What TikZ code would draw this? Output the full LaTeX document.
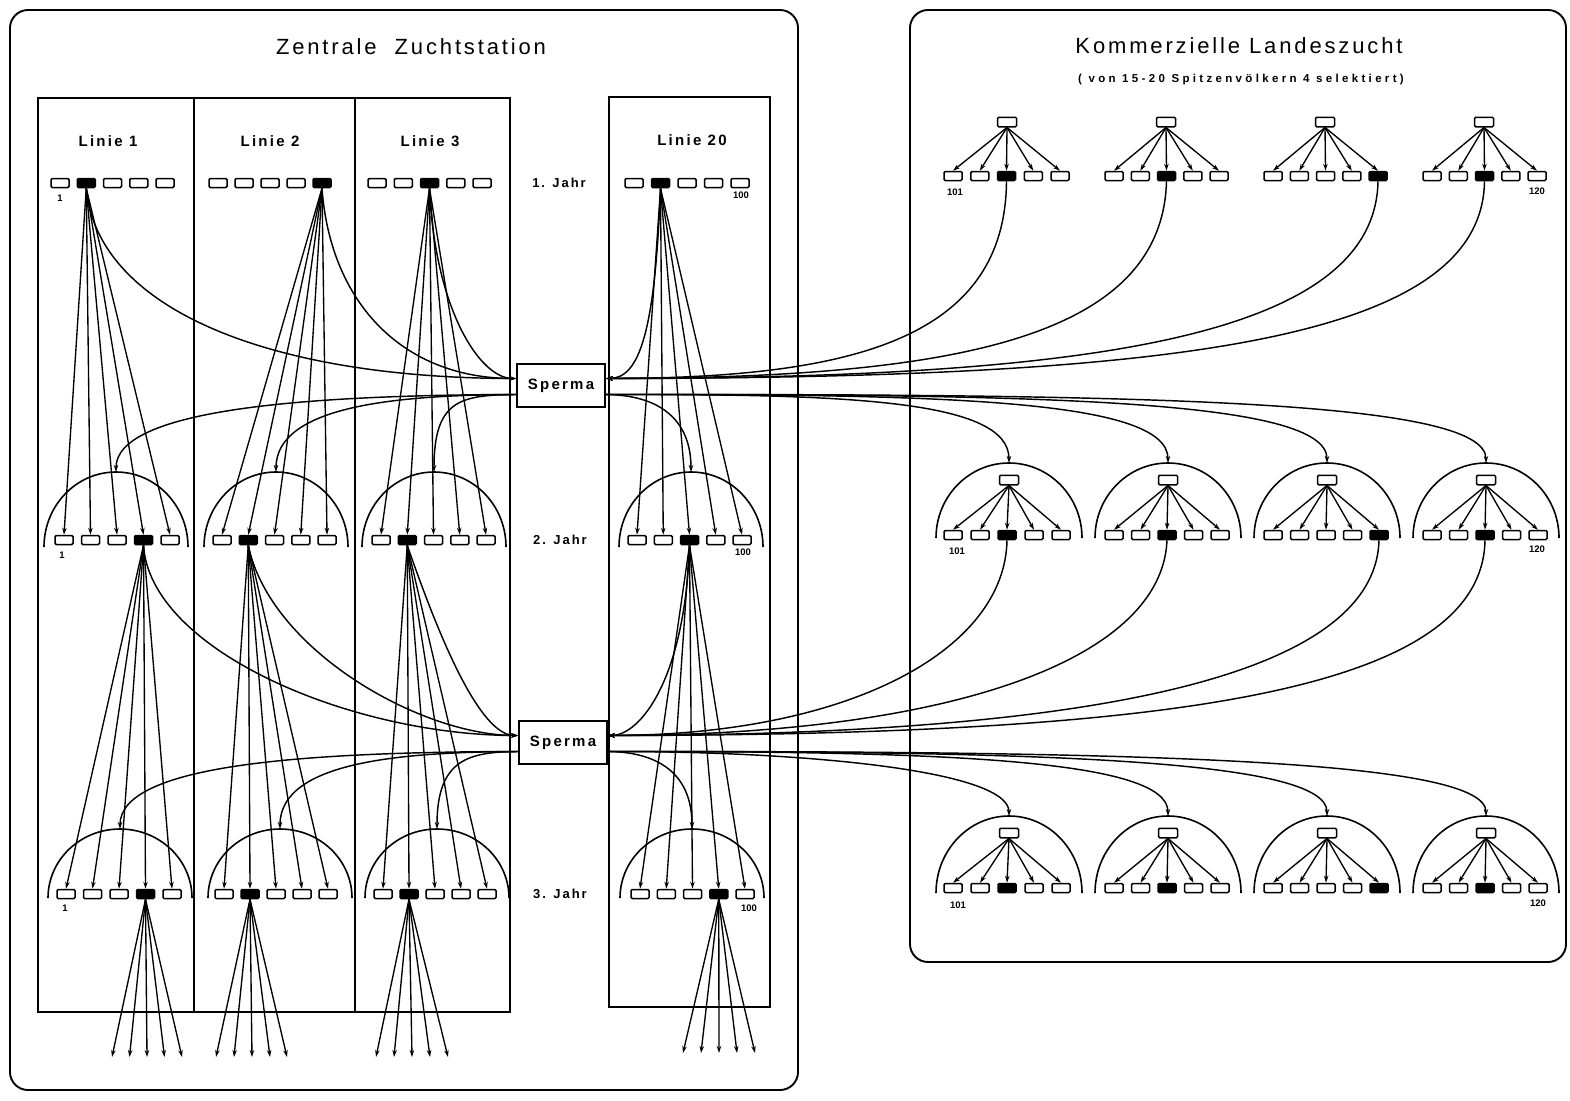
\documentclass[tikz,border=0pt]{standalone}
\usepackage{fontspec}
\setmainfont{Liberation Sans}
\newfontfamily\trackA[LetterSpace=13]{Liberation Sans}
\newfontfamily\trackB[LetterSpace=15]{Liberation Sans}
\newfontfamily\trackC[LetterSpace=29]{Liberation Sans}
\usetikzlibrary{arrows.meta}
\tikzset{
  frame/.style={line width=1.9pt, rounded corners=18pt},
  col/.style={line width=1.7pt},
  wbox/.style={draw, line width=1.5pt, rounded corners=1.2pt, minimum width=18pt, minimum height=9pt, inner sep=0pt, fill=white},
  bbox/.style={wbox, fill=black},
  qbox/.style={wbox, minimum width=19pt, minimum height=9.5pt},
  arr/.style={line width=1.35pt, -{Stealth[length=7pt,width=4.5pt]}},
  con/.style={line width=1.45pt, -{Stealth[length=7pt,width=4.5pt]}},
  dome/.style={line width=1.6pt},
  sperma/.style={draw, line width=1.6pt, minimum width=88pt, minimum height=43pt, inner sep=0pt, fill=white, font=\trackB\bfseries\fontsize{15}{17}\selectfont},
  title/.style={font=\trackA\fontsize{22}{26}\selectfont, inner sep=0pt},
  linie/.style={font=\trackB\bfseries\fontsize{15}{17}\selectfont, inner sep=0pt},
  jahr/.style={font=\trackB\bfseries\fontsize{13}{15}\selectfont, inner sep=0pt},
  num/.style={font=\bfseries\fontsize{9.5}{11}\selectfont, inner sep=0pt},
}
\newcommand\boxrow[5]{%
  \foreach \i in {1,...,5}{%
    \pgfmathsetmacro\xx{#2+(\i-1)*#4}%
    \ifnum\i=#5\relax
      \node[bbox] (#1-\i) at (\xx,#3) {};
    \else
      \node[wbox] (#1-\i) at (\xx,#3) {};
    \fi}}
\newcommand\domearc[4]{% cx, base y, rx, ry
  \draw[dome] ({#1-#3},#2) arc[start angle=180, end angle=0, x radius=#3pt, y radius=#4pt];}
\begin{document}
\begin{tikzpicture}[x=1pt,y=1pt]
\useasboundingbox (0,0) rectangle (1570,-1100);
\fill[white] (0,0) rectangle (1570,-1100);

% ---------- frames ----------
\draw[frame] (10,-10) rectangle (798,-1090);
\draw[frame] (910,-10) rectangle (1566,-962);
\draw[col] (38,-98) rectangle (510,-1012);
\draw[col] (194,-98) -- (194,-1012);
\draw[col] (355,-98) -- (355,-1012);
\draw[col] (609,-97) rectangle (770,-1007);

% ---------- titles ----------
\node[title] (tl) at (411,-47) {Zentrale\ \ Zuchtstation};
\node[title] (tr) at (1239,-46) {Kommerzielle Landeszucht};
\node[font=\trackC\bfseries\fontsize{11.5}{13}\selectfont, inner sep=0pt] (ts) at (1241,-80) {( von 15-20 Spitzenvölkern 4 selektiert)};
\node[linie] (n1) at (108,-141) {Linie 1};
\node[linie] (n2) at (270,-141) {Linie 2};
\node[linie] (n3) at (430,-141) {Linie 3};
\node[linie] (n20) at (692,-140) {Linie 20};
\node[jahr] (j1) at (559,-183) {1. Jahr};
\node[jahr] (j2) at (560,-540) {2. Jahr};
\node[jahr] (j3) at (560,-894) {3. Jahr};

% ---------- domes ----------
\domearc{116}{-547}{72}{75}
\domearc{276}{-547}{72}{75}
\domearc{434}{-547}{72}{75}
\domearc{691}{-547}{72}{75}
\domearc{120}{-898}{72}{69}
\domearc{280}{-898}{72}{69}
\domearc{437}{-898}{72}{69}
\domearc{692}{-898}{72}{69}
\domearc{1009}{-538}{73}{75}
\domearc{1168}{-538}{73}{75}
\domearc{1327}{-538}{73}{75}
\domearc{1486}{-538}{73}{75}
\domearc{1009}{-893}{73}{77}
\domearc{1168}{-893}{73}{77}
\domearc{1327}{-893}{73}{77}
\domearc{1486}{-893}{73}{77}
\coordinate (T1b) at (116,-472);
\coordinate (T2b) at (276,-472);
\coordinate (T3b) at (434,-472);
\coordinate (TTb) at (691,-472);
\coordinate (T1c) at (120,-829);
\coordinate (T2c) at (280,-829);
\coordinate (T3c) at (437,-829);
\coordinate (TTc) at (692,-829);
\coordinate (U1b) at (1009,-463);
\coordinate (U2b) at (1168,-463);
\coordinate (U3b) at (1327,-463);
\coordinate (U4b) at (1486,-463);
\coordinate (U1c) at (1009,-816);
\coordinate (U2c) at (1168,-816);
\coordinate (U3c) at (1327,-816);
\coordinate (U4c) at (1486,-816);

% ---------- boxes ----------
\boxrow{L1a}{60}{-183}{26.25}{2}
\boxrow{L2a}{218}{-183}{26}{5}
\boxrow{L3a}{377}{-183}{26.25}{3}
\boxrow{LTa}{634}{-183}{26.5}{2}
\boxrow{L1b}{64}{-540}{26.5}{4}
\boxrow{L2b}{222}{-540}{26.25}{2}
\boxrow{L3b}{381}{-540}{26.25}{2}
\boxrow{LTb}{637}{-540}{26.25}{3}
\boxrow{L1c}{66}{-894}{26.5}{4}
\boxrow{L2c}{224}{-894}{26}{2}
\boxrow{L3c}{383}{-894}{26}{2}
\boxrow{LTc}{640}{-894}{26.25}{4}

\boxrow{R1a}{953}{-176}{26.75}{3}
\boxrow{R2a}{1114}{-176}{26.25}{3}
\boxrow{R3a}{1273}{-176}{26.25}{5}
\boxrow{R4a}{1432}{-176}{26.25}{3}
\boxrow{R1b}{953}{-535}{27}{3}
\boxrow{R2b}{1114}{-535}{26.5}{3}
\boxrow{R3b}{1273}{-535}{26.5}{5}
\boxrow{R4b}{1432}{-535}{26.5}{3}
\boxrow{R1c}{953}{-888}{27}{3}
\boxrow{R2c}{1114}{-888}{26.5}{3}
\boxrow{R3c}{1273}{-888}{26.5}{5}
\boxrow{R4c}{1432}{-888}{26.5}{3}

\node[qbox] (Q1a) at (1007,-122) {};
\node[qbox] (Q2a) at (1166,-122) {};
\node[qbox] (Q3a) at (1325,-122) {};
\node[qbox] (Q4a) at (1484,-122) {};
\node[qbox] (Q1b) at (1009,-480) {};
\node[qbox] (Q2b) at (1168,-480) {};
\node[qbox] (Q3b) at (1327,-480) {};
\node[qbox] (Q4b) at (1486,-480) {};
\node[qbox] (Q1c) at (1009,-833) {};
\node[qbox] (Q2c) at (1168,-833) {};
\node[qbox] (Q3c) at (1327,-833) {};
\node[qbox] (Q4c) at (1486,-833) {};

% numbers
\node[num] (c1) at (60,-198) {1};
\node[num] (c2) at (62,-555) {1};
\node[num] (c3) at (65,-908) {1};
\node[num] (c4) at (741,-195) {100};
\node[num] (c5) at (743,-552) {100};
\node[num] (c6) at (749,-908) {100};
\node[num] (c7) at (955,-192) {101};
\node[num] (c8) at (957,-551) {101};
\node[num] (c9) at (958,-905) {101};
\node[num] (c10) at (1537,-191) {120};
\node[num] (c11) at (1537,-549) {120};
\node[num] (c12) at (1538,-903) {120};

% ---------- Sperma ----------
\node[sperma] (S1) at (561,-385.5) {Sperma};
\node[sperma] (S2) at (563,-742.5) {Sperma};

% ---------- fans ----------
\foreach \i in {1,...,5}{
  \draw[arr] (L1a-2.south) -- (L1b-\i.north);
  \draw[arr] (L2a-5.south) -- (L2b-\i.north);
  \draw[arr] (L3a-3.south) -- (L3b-\i.north);
  \draw[arr] (LTa-2.south) -- (LTb-\i.north);
  \draw[arr] (L1b-4.south) -- (L1c-\i.north);
  \draw[arr] (L2b-2.south) -- (L2c-\i.north);
  \draw[arr] (L3b-2.south) -- (L3c-\i.north);
  \draw[arr] (LTb-3.south) -- (LTc-\i.north);
  \draw[arr] (Q1a.south) -- (R1a-\i.north);
  \draw[arr] (Q2a.south) -- (R2a-\i.north);
  \draw[arr] (Q3a.south) -- (R3a-\i.north);
  \draw[arr] (Q4a.south) -- (R4a-\i.north);
  \draw[arr] (Q1b.south) -- (R1b-\i.north);
  \draw[arr] (Q2b.south) -- (R2b-\i.north);
  \draw[arr] (Q3b.south) -- (R3b-\i.north);
  \draw[arr] (Q4b.south) -- (R4b-\i.north);
  \draw[arr] (Q1c.south) -- (R1c-\i.north);
  \draw[arr] (Q2c.south) -- (R2c-\i.north);
  \draw[arr] (Q3c.south) -- (R3c-\i.north);
  \draw[arr] (Q4c.south) -- (R4c-\i.north);
}
\foreach \i/\x in {1/112,2/129.5,3/147,4/164.5,5/182}{\coordinate (E1-\i) at (\x,-1057); \draw[arr] (L1c-4.south) -- (E1-\i);}
\foreach \i/\x in {1/216,2/234,3/252,4/270,5/287}{\coordinate (E2-\i) at (\x,-1057); \draw[arr] (L2c-2.south) -- (E2-\i);}
\foreach \i/\x in {1/376,2/394,3/412,4/430,5/448}{\coordinate (E3-\i) at (\x,-1057); \draw[arr] (L3c-2.south) -- (E3-\i);}
\foreach \i/\x in {1/683,2/701,3/719,4/737,5/755}{\coordinate (ET-\i) at (\x,-1053); \draw[arr] (LTc-4.south) -- (ET-\i);}

% ---------- curves to / from Sperma 1 ----------
\draw[con] (L1a-2.south) .. controls (97,-308) and (267,-378) .. ([yshift=7pt]S1.west);
\draw[con] (L2a-5.south) .. controls (330,-300) and (400,-378) .. ([yshift=7pt]S1.west);
\draw[con] (L3a-3.south) .. controls (435,-310) and (480,-378) .. ([yshift=7pt]S1.west);
\draw[con] (LTa-2.south) .. controls (655,-330) and (640,-378) .. ([yshift=7pt]S1.east);
\draw[con] (R1a-3.south) .. controls (1005,-340) and (850,-378) .. ([yshift=7pt]S1.east);
\draw[con] (R2a-3.south) .. controls (1162,-340) and (950,-378) .. ([yshift=7pt]S1.east);
\draw[con] (R3a-5.south) .. controls (1375,-340) and (1080,-378) .. ([yshift=7pt]S1.east);
\draw[con] (R4a-3.south) .. controls (1482,-340) and (1180,-378) .. ([yshift=7pt]S1.east);
\draw[con] ([yshift=-9pt]S1.west) .. controls (300,-395) and (116,-410) .. (T1b);
\draw[con] ([yshift=-9pt]S1.west) .. controls (400,-395) and (276,-405) .. (T2b);
\draw[con] ([yshift=-9pt]S1.west) .. controls (460,-395) and (434,-400) .. (T3b);
\draw[con] ([yshift=-9pt]S1.east) .. controls (660,-395) and (691,-420) .. (TTb);
\draw[con] ([yshift=-9pt]S1.east) .. controls (850,-394) and (1009,-400) .. (U1b);
\draw[con] ([yshift=-9pt]S1.east) .. controls (950,-394) and (1168,-400) .. (U2b);
\draw[con] ([yshift=-9pt]S1.east) .. controls (1050,-394) and (1327,-400) .. (U3b);
\draw[con] ([yshift=-9pt]S1.east) .. controls (1150,-394) and (1486,-400) .. (U4b);

% ---------- curves to / from Sperma 2 ----------
\draw[con] (L1b-4.south) .. controls (150,-650) and (350,-735) .. ([yshift=7pt]S2.west);
\draw[con] (L2b-2.south) .. controls (270,-650) and (420,-735) .. ([yshift=7pt]S2.west);
\draw[con] (L3b-2.south) .. controls (440,-640) and (480,-735) .. ([yshift=7pt]S2.west);
\draw[con] (LTb-3.south) .. controls (685,-680) and (640,-735) .. ([yshift=7pt]S2.east);
\draw[con] (R1b-3.south) .. controls (1005,-650) and (850,-735) .. ([yshift=7pt]S2.east);
\draw[con] (R2b-3.south) .. controls (1162,-660) and (950,-735) .. ([yshift=7pt]S2.east);
\draw[con] (R3b-5.south) .. controls (1375,-680) and (1080,-735) .. ([yshift=7pt]S2.east);
\draw[con] (R4b-3.south) .. controls (1482,-690) and (1180,-735) .. ([yshift=7pt]S2.east);
\draw[con] ([yshift=-9pt]S2.west) .. controls (300,-752) and (120,-765) .. (T1c);
\draw[con] ([yshift=-9pt]S2.west) .. controls (400,-752) and (280,-762) .. (T2c);
\draw[con] ([yshift=-9pt]S2.west) .. controls (470,-752) and (437,-758) .. (T3c);
\draw[con] ([yshift=-9pt]S2.east) .. controls (660,-752) and (692,-775) .. (TTc);
\draw[con] ([yshift=-9pt]S2.east) .. controls (800,-751) and (1009,-770) .. (U1c);
\draw[con] ([yshift=-9pt]S2.east) .. controls (950,-751) and (1168,-760) .. (U2c);
\draw[con] ([yshift=-9pt]S2.east) .. controls (1050,-751) and (1327,-760) .. (U3c);
\draw[con] ([yshift=-9pt]S2.east) .. controls (1150,-751) and (1486,-760) .. (U4c);
\end{tikzpicture}
\end{document}
